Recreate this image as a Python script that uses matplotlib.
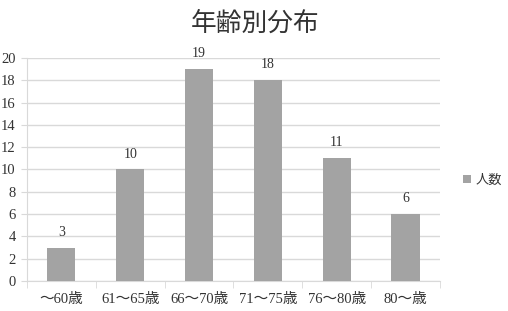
import numpy as np
import matplotlib
matplotlib.use('Agg')
from matplotlib import pyplot as plt

# data
categories = ['〜60歳', '61〜65歳', '66〜70歳', '71〜75歳', '76〜80歳', '80〜歳']
counts = [3, 10, 19, 18, 11, 6]
series_name = '人数'
title = '年齢別分布'

serif_fam = ['Liberation Serif', 'Noto Sans CJK JP']
plt.rcParams['font.family'] = ['Noto Sans CJK JP', 'DejaVu Sans']

bar_color = '#a3a3a3'
grid_color = '#d9d9d9'

fig = plt.figure(figsize=(5.08, 3.11), dpi=100)
ax = fig.add_axes([0.053, 0.0965, 0.813, 0.717])

x = np.arange(len(categories))
bars = ax.bar(x, counts, width=0.41, color=bar_color, label=series_name, zorder=3)

for xi, v in zip(x, counts):
    ax.text(xi, v + 0.8, str(v), ha='center', va='bottom', fontsize=10,
            family=serif_fam, color='#333333')

ax.set_xlim(-0.5, len(categories) - 0.5)
ax.set_ylim(0, 20)
ax.set_yticks(np.arange(0, 21, 2))
ax.yaxis.grid(True, color=grid_color, linewidth=1, zorder=0)

ax.set_xticks(x)
ax.set_xticklabels(categories)
ax.set_xticks(np.arange(-0.5, len(categories), 1), minor=True)
ax.tick_params(axis='x', which='major', length=0, pad=9)
ax.tick_params(axis='x', which='minor', length=5, color=grid_color, direction='out')
ax.tick_params(axis='y', length=4, color=grid_color, pad=4)

for lbl in ax.get_xticklabels() + ax.get_yticklabels():
    lbl.set_family(serif_fam)
    lbl.set_fontsize(10.5)
    lbl.set_color('#333333')

for side in ['top', 'right']:
    ax.spines[side].set_visible(False)
ax.spines['left'].set_color(grid_color)
ax.spines['bottom'].set_color(grid_color)

fig.text(0.502, 0.925, title, ha='center', va='center', fontsize=18.5, color='#333333')

fig.legend(handles=[bars], labels=[series_name], loc='center left',
           bbox_to_anchor=(0.912, 0.42), frameon=False, handlelength=0.55,
           handleheight=0.55, handletextpad=0.35, borderpad=0, borderaxespad=0,
           prop={'family': serif_fam, 'size': 9.5}, labelcolor='#333333')

fig.savefig('out.png', dpi=100)
